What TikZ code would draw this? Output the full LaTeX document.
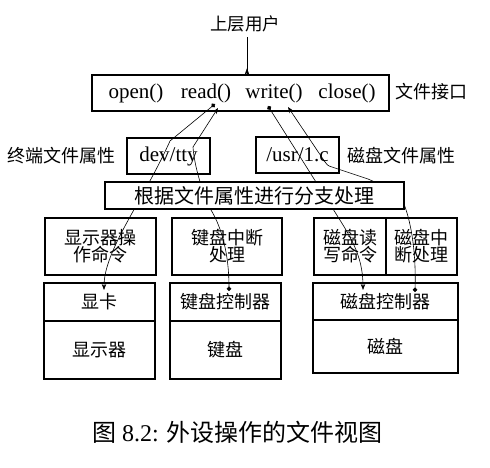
\documentclass[tikz,border=0pt]{standalone}
\usepackage{fontspec}
\setmainfont{Liberation Serif}
\newfontfamily\cjk{Noto Sans CJK SC}
\usetikzlibrary{arrows.meta}
\begin{document}
\begin{tikzpicture}[x=1pt,y=-1pt,
  box/.style={draw, line width=1.5pt, inner sep=0pt, align=center,
    font=\cjk\fontsize{18}{17}\selectfont},
  lbl/.style={inner sep=0pt, font=\cjk\fontsize{18}{18}\selectfont},
  fn/.style={inner sep=0pt, font=\fontsize{21}{21}\selectfont},
  conn/.style={line width=0.6pt},
  dotarrow/.style={conn, {Circle[length=4.5pt]}-{Stealth[length=6pt,width=4.5pt]}}]
\useasboundingbox (0,0) rectangle (490,468);

% top
\node[lbl, font=\cjk\fontsize{17.5}{17.5}\selectfont] (user) at (245,24) {上层用户};
\node[box, minimum width=297pt, minimum height=36pt] (iface) at (240.5,93) {};
\draw[conn, -{Stealth[length=7pt,width=5pt]}] (user.south) ++(2,5) coordinate (ua) -- (ua |- iface.north) ++(0,-6) coordinate (ub);
\node[fn] (open) at (136,93) {open()};
\node[fn] (read) at (206,93) {read()};
\node[fn] (write) at (274,93) {write()};
\node[fn] (close) at (347,93) {close()};
\node[lbl] (ifl) at (431,92) {文件接口};

% attributes
\node[box, font=\fontsize{21}{21}\selectfont, minimum width=83pt, minimum height=36pt] (tty) at (168.5,156) {dev/tty};
\node[box, font=\fontsize{21}{21}\selectfont, minimum width=83pt, minimum height=36pt] (usr) at (297.5,155) {/usr/1.c};
\node[lbl] (ttyl) at (61,156) {终端文件属性};
\node[lbl] (usrl) at (401,156) {磁盘文件属性};

% row 3
\node[box, minimum width=111pt, minimum height=57pt] (dcmd) at (100.5,246.5) {显示器操\\作命令};
\node[box, minimum width=110pt, minimum height=57pt] (kint) at (227,246.5) {键盘中断\\处理};
\node[box, minimum width=72pt, minimum height=57pt] (drw) at (350,246.5) {磁盘读\\写命令};
\node[box, minimum width=71pt, minimum height=57pt] (dint) at (421.5,246.5) {磁盘中\\断处理};

% row 4
\node[box, minimum width=111pt, minimum height=38pt] (gpu) at (99.5,302) {显卡};
\node[box, minimum width=111pt, minimum height=58pt] (mon) at (99.5,350) {显示器};
\node[box, minimum width=111pt, minimum height=38pt] (kbc) at (225.5,302) {键盘控制器};
\node[box, minimum width=111pt, minimum height=58pt] (kbd) at (225.5,350) {键盘};
\node[box, minimum width=145pt, minimum height=37pt] (dkc) at (385.5,301.5) {磁盘控制器};
\node[box, minimum width=145pt, minimum height=53pt] (disk) at (385.5,346.5) {磁盘};

% connector end points
\coordinate (rdDot) at (215,104);
\coordinate (rdTip) at (218,108);
\coordinate (wrDot) at (268,106);
\coordinate (wrTip) at (288,107);
\coordinate (gpuTip) at (104,290);
\coordinate (kbcDot) at (229,291);
\coordinate (dkcTip) at (363,290);
\coordinate (dkcDot) at (415,292);

\draw[dotarrow] (rdDot) -- (170,141) .. controls (143,201) and (104,250) .. (gpuTip);
\draw[dotarrow] (kbcDot) .. controls (229,255) and (222,228) .. (211,210)
   .. controls (203,195) and (194,165) .. (193,147) -- (rdTip);
\draw[dotarrow] (wrDot) -- (333,209) .. controls (350,236) and (363,255) .. (dkcTip);
\draw[dotarrow] (dkcDot) .. controls (416,255) and (412,225) .. (404,204)
   .. controls (395,192) and (380,184) .. (368,179) -- (332,167)
   .. controls (328,166) and (326,164) .. (325,162) -- (wrTip);

% branch box on top
\node[box, fill=white, font=\cjk\fontsize{20}{20}\selectfont, minimum width=299pt, minimum height=27pt] (branch) at (254.5,195.5) {根据文件属性进行分支处理};

% caption
\node[inner sep=0pt, font=\fontsize{24}{24}\selectfont] (cap) at (237.5,432) {{\cjk 图} 8.2: {\cjk 外设操作的文件视图}};
\end{tikzpicture}
\end{document}
